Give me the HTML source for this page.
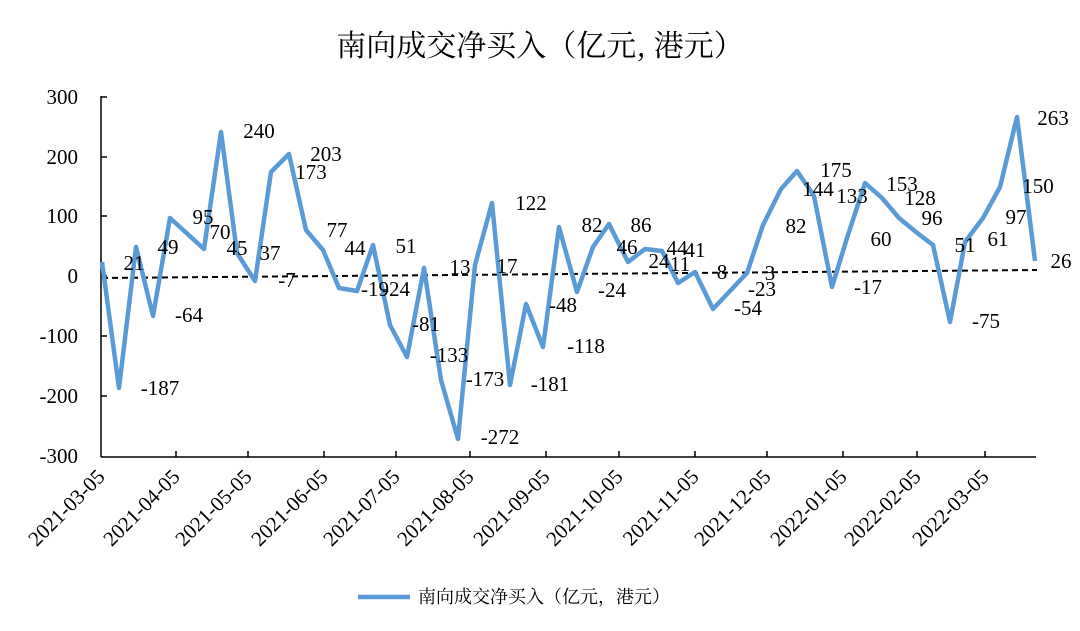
<!DOCTYPE html>
<html><head><meta charset="utf-8"><style>
body{margin:0;background:#fff}
svg{display:block}
text{font-family:"Liberation Serif","Noto Serif CJK SC",serif;fill:#000}
.cjk{font-family:"Noto Serif CJK SC","Liberation Serif",serif}
</style></head><body>
<svg width="1080" height="631" viewBox="0 0 1080 631" xmlns="http://www.w3.org/2000/svg">
<text class="cjk" x="540" y="56" font-size="30" text-anchor="middle">南向成交净买入（亿元, 港元）</text>
<g stroke="#000" stroke-width="1.5" fill="none">
<line x1="101" y1="96" x2="101" y2="457"/>
<line x1="101" y1="457" x2="1036" y2="457"/>
<line x1="101" y1="97" x2="107" y2="97"/>
<line x1="101" y1="157" x2="107" y2="157"/>
<line x1="101" y1="216" x2="107" y2="216"/>
<line x1="101" y1="276" x2="107" y2="276"/>
<line x1="101" y1="336" x2="107" y2="336"/>
<line x1="101" y1="396" x2="107" y2="396"/>
<line x1="176" y1="457" x2="176" y2="451"/><line x1="248" y1="457" x2="248" y2="451"/>
<line x1="324" y1="457" x2="324" y2="451"/><line x1="396" y1="457" x2="396" y2="451"/>
<line x1="470" y1="457" x2="470" y2="451"/><line x1="546" y1="457" x2="546" y2="451"/>
<line x1="619" y1="457" x2="619" y2="451"/><line x1="695" y1="457" x2="695" y2="451"/>
<line x1="767" y1="457" x2="767" y2="451"/><line x1="843" y1="457" x2="843" y2="451"/>
<line x1="917" y1="457" x2="917" y2="451"/><line x1="985" y1="457" x2="985" y2="451"/>
</g>
<g font-size="21" text-anchor="end">
<text x="78" y="104">300</text><text x="78" y="164">200</text><text x="78" y="223">100</text>
<text x="78" y="283">0</text><text x="78" y="343">-100</text><text x="78" y="403">-200</text><text x="78" y="463">-300</text>
</g>
<g font-size="21" text-anchor="end">
<text transform="translate(106,478) rotate(-45)">2021-03-05</text>
<text transform="translate(181,478) rotate(-45)">2021-04-05</text>
<text transform="translate(253,478) rotate(-45)">2021-05-05</text>
<text transform="translate(329,478) rotate(-45)">2021-06-05</text>
<text transform="translate(401,478) rotate(-45)">2021-07-05</text>
<text transform="translate(475,478) rotate(-45)">2021-08-05</text>
<text transform="translate(551,478) rotate(-45)">2021-09-05</text>
<text transform="translate(624,478) rotate(-45)">2021-10-05</text>
<text transform="translate(700,478) rotate(-45)">2021-11-05</text>
<text transform="translate(772,478) rotate(-45)">2021-12-05</text>
<text transform="translate(848,478) rotate(-45)">2022-01-05</text>
<text transform="translate(922,478) rotate(-45)">2022-02-05</text>
<text transform="translate(990,478) rotate(-45)">2022-03-05</text>
</g>
<line x1="102" y1="278" x2="1037" y2="270" stroke="#000" stroke-width="2" stroke-dasharray="6,4"/>
<polyline fill="none" stroke="#5b9bd5" stroke-width="4.5" stroke-linejoin="round" points="102,262 119,388 136,247 153,316 170,218 204,249 221,132 237,253 255,281 271,172 289,154 306,230 323,250 339,288 357,291 373,245 390,325 407,357 424,268 441,380 458,439 475,265 492,203 510,385 526,304 543,347 559,227 577,292 593,247 609,224 628,262 645,249 662,251 678,283 695,272 713,309 730,291 747,273 763,225 781,189 797,171 814,196 832,287 847,238 865,183 882,198 899,218 916,232 933,245 950,322 965,242 983,218 1000,187 1017,117 1035,261"/>
<g font-size="21" text-anchor="middle" dominant-baseline="middle">
<text x="134" y="265">21</text><text x="160" y="390">-187</text><text x="189" y="317">-64</text>
<text x="168" y="249">49</text><text x="203" y="219">95</text><text x="220" y="234">70</text>
<text x="237" y="250">45</text><text x="259" y="133">240</text><text x="270" y="255">37</text>
<text x="287" y="282">-7</text><text x="326" y="156">203</text><text x="311" y="174">173</text>
<text x="337" y="232">77</text><text x="355" y="250">44</text><text x="375" y="291">-19</text>
<text x="396" y="291">-24</text><text x="406" y="248">51</text><text x="426" y="326">-81</text>
<text x="449" y="357">-133</text><text x="460" y="269">13</text><text x="485" y="381">-173</text>
<text x="500" y="439">-272</text><text x="507" y="268">17</text><text x="531" y="205">122</text>
<text x="550" y="386">-181</text><text x="563" y="307">-48</text><text x="586" y="348">-118</text>
<text x="592" y="227">82</text><text x="612" y="292">-24</text><text x="627" y="249">46</text>
<text x="641" y="227">86</text><text x="659" y="263">24</text><text x="677" y="250">44</text>
<text x="695" y="252">41</text><text x="680" y="266">11</text><text x="722" y="274">8</text>
<text x="770" y="275">3</text><text x="762" y="291">-23</text><text x="748" y="310">-54</text>
<text x="796" y="228">82</text><text x="836" y="172">175</text><text x="818" y="191">144</text>
<text x="852" y="198">133</text><text x="881" y="241">60</text><text x="868" y="289">-17</text>
<text x="902" y="186">153</text><text x="920" y="200">128</text><text x="932" y="220">96</text>
<text x="965" y="247">51</text><text x="986" y="323">-75</text><text x="998" y="241">61</text>
<text x="1016" y="219">97</text><text x="1038" y="188">150</text><text x="1053" y="120">263</text>
<text x="1061" y="263">26</text>
</g>
<line x1="358" y1="597" x2="410" y2="597" stroke="#5b9bd5" stroke-width="4.5"/>
<text class="cjk" x="418" y="603" font-size="18">南向成交净买入（亿元，港元）</text>
</svg>
</body></html>
